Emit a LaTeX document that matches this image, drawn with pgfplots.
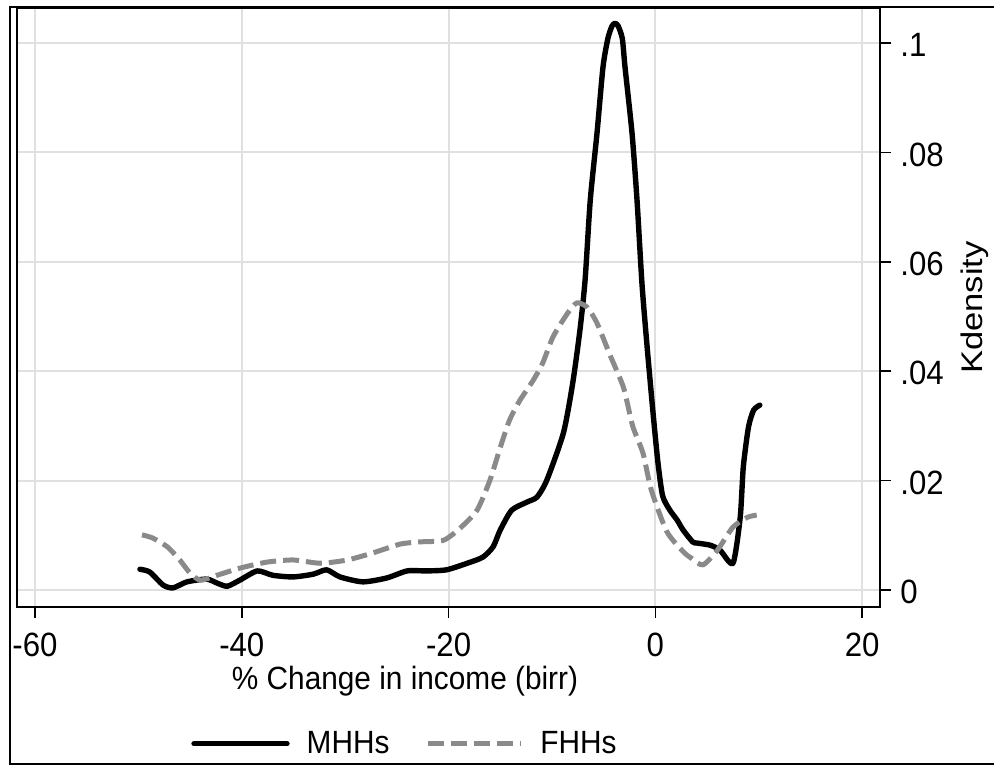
\documentclass[border=0pt]{standalone}
\usepackage{fontspec}
\setmainfont{Liberation Sans}
\usepackage{graphicx}
\usepackage{pgfplots}
\pgfplotsset{compat=1.18}
\definecolor{gridgray}{RGB}{224,224,224}
\definecolor{fhhgray}{RGB}{138,138,138}
\newcommand{\tall}[1]{\scalebox{1}[1.08]{#1}}
% 1 px of the reference = 0.5pt
\begin{document}
\begin{tikzpicture}[font=\fontsize{14.9}{17}\selectfont]
\path[use as bounding box] (0,0) rectangle (497pt,-383pt);
% outer graph border (right edge falls outside the picture)
\draw[line width=1pt] (497pt,-3.25pt) -- (5pt,-3.25pt) -- (5pt,-382pt) -- (497pt,-382pt);
\begin{axis}[
    at={(8.5pt,-303.5pt)}, anchor=south west,
    scale only axis,
    width=431.5pt, height=299.5pt,
    xmin=-61.74, xmax=21.72,
    ymin=-0.0031, ymax=0.1064,
    xtick={-60,-40,-20,0,20},
    xticklabels={\tall{-60},\tall{-40},\tall{-20},\tall{0},\tall{20}},
    ytick={0,0.02,0.04,0.06,0.08,0.1},
    yticklabels={\tall{0},\tall{.02},\tall{.04},\tall{.06},\tall{.08},\tall{.1}},
    yticklabel pos=right,
    ytick pos=right,
    xtick pos=bottom,
    tick align=outside,
    major tick length=5.5pt,
    tick style={black, line width=0.75pt},
    axis line style={line width=1pt},
    grid=major,
    major grid style={gridgray, line width=1pt},
    tick label style={font=\fontsize{15.6}{18}\selectfont},
    xticklabel style={anchor=north, inner sep=0pt, yshift=-7.5pt},
    yticklabel style={anchor=west, inner sep=0pt, xshift=4.5pt, yshift=-1pt},
    xlabel={\tall{\% Change in income (birr)}},
    ylabel={\scalebox{1.16}[1]{Kdensity}},
    every axis x label/.style={at={(axis description cs:0.4496,-0.1383)}, anchor=base, inner sep=0pt},
    every axis y label/.style={at={(axis description cs:1.110,0.5)}, rotate=90, anchor=center, inner sep=0pt},
    legend columns=2,
    legend style={at={(axis description cs:0.2015,-0.2283)}, anchor=west, draw=none, fill=none,
        inner sep=0pt, nodes={inner sep=0pt, anchor=west},
        /tikz/every odd column/.append style={column sep=8.5pt},
        /tikz/every even column/.append style={column sep=18pt}},
    legend image code/.code={\draw[#1] (0pt,0pt) -- (46.5pt,0pt);},
    ]
\addplot[black, line width=2.7pt, smooth, tension=0.4, line join=round, line cap=round] coordinates {
(-49.85,0.0038) (-48.9,0.0033) (-47.6,0.0009) (-46.65,0.0004) (-45.3,0.0015)
(-43.4,0.0020) (-42.3,0.0012) (-41.4,0.0007) (-40.2,0.0018) (-38.5,0.0035)
(-37.0,0.0027) (-35.05,0.0024) (-33.1,0.0029) (-31.8,0.0037) (-30.5,0.0024)
(-28.3,0.0015) (-26.0,0.0022) (-24.0,0.0035) (-22.1,0.0035) (-20.2,0.0037)
(-18.2,0.0049) (-16.7,0.0060) (-15.7,0.0079) (-15.0,0.0110) (-13.9,0.0146)
(-12.4,0.0161) (-11.45,0.0170) (-10.5,0.0201) (-8.9,0.0287) (-8.0,0.0378)
(-7.3,0.0475) (-6.8,0.0567) (-6.3,0.0713) (-5.65,0.0835) (-5.07,0.0956)
(-4.6,0.1008) (-4.2,0.1031) (-3.9,0.1036) (-3.6,0.1031) (-3.2,0.1008)
(-2.94,0.0956) (-2.26,0.0835) (-1.78,0.0713) (-1.3,0.0560) (-0.8,0.0444)
(-0.23,0.0324) (0.25,0.0232) (0.7,0.0172) (1.4,0.0146) (2.1,0.0128)
(2.67,0.0110) (3.6,0.0088) (4.0,0.0086) (5.3,0.0082) (6.25,0.0073)
(7.5,0.0049) (8.2,0.0133) (8.5,0.0225) (9.0,0.0298) (9.5,0.0329) (10.1,0.0338)
};
\addlegendentry{\tall{MHHs}}
\addplot[fhhgray, line width=2.5pt, smooth, tension=0.4, dash pattern=on 8pt off 3.5pt, line join=round] coordinates {
(-49.65,0.0101) (-48.6,0.0095) (-47.2,0.0079) (-46.0,0.0055) (-45.0,0.0031)
(-44.0,0.0018) (-42.4,0.0027) (-40.2,0.0040) (-37.6,0.0051) (-35.05,0.0055)
(-32.4,0.0049) (-29.8,0.0055) (-27.3,0.0068) (-24.7,0.0084) (-22.8,0.0088)
(-20.5,0.0091) (-18.9,0.0113) (-17.25,0.0146) (-16.0,0.0201) (-15.0,0.0261)
(-14.1,0.0311) (-13.1,0.0347) (-11.8,0.0384) (-10.9,0.0415) (-9.9,0.0463)
(-8.5,0.0506) (-7.6,0.0525) (-6.6,0.0517) (-5.65,0.0488) (-4.4,0.0430)
(-3.1,0.0371) (-2.2,0.0300) (-1.2,0.0250) (-0.4,0.0183) (1.1,0.0107)
(2.7,0.0070) (3.5,0.0058) (4.6,0.0046) (6.0,0.0073) (7.5,0.0115)
(8.9,0.0133) (9.8,0.0137)
};
\addlegendentry{\tall{FHHs}}
\end{axis}
\end{tikzpicture}
\end{document}
